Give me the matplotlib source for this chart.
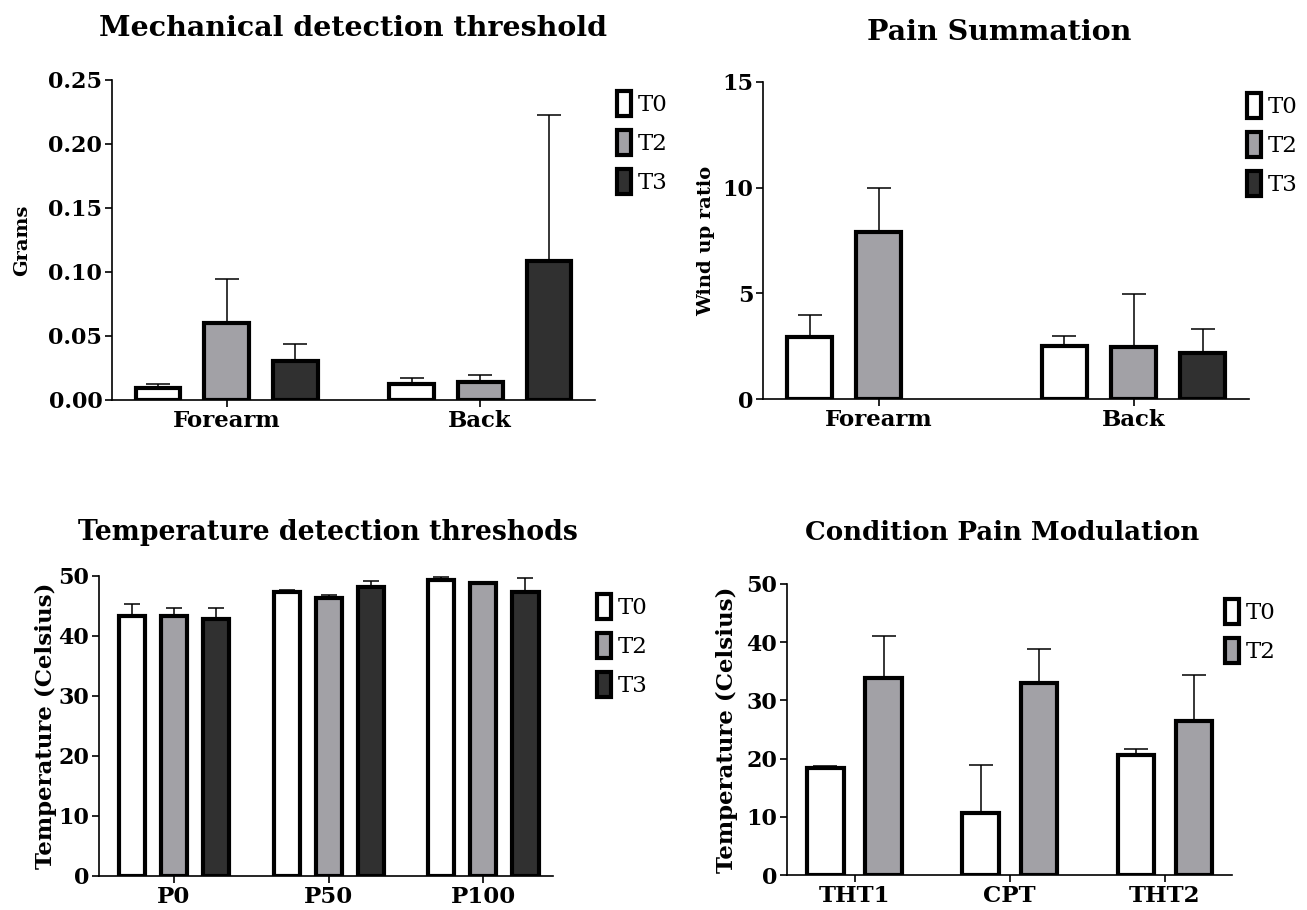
import numpy as np
import matplotlib
matplotlib.use("Agg")
from matplotlib import pyplot as plt
from matplotlib.patches import Patch

plt.rcParams['font.family'] = ['DejaVu Serif']

# mechanical detection threshold (grams)
mdt_groups = ['Forearm', 'Back']
mdt_t0 = [0.0093, 0.0126]
mdt_t2 = [0.0598, 0.0137]
mdt_t3 = [0.0302, 0.1085]
mdt_t0_err = [0.0124, 0.0170]
mdt_t2_err = [0.0948, 0.0193]
mdt_t3_err = [0.0438, 0.2224]

# pain summation (wind up ratio), no T3 bar for forearm
ps_groups = ['Forearm', 'Back']
ps_t0 = [2.93, 2.52]
ps_t2 = [7.90, 2.44]
ps_t3 = [np.nan, 2.19]
ps_t0_err = [3.97, 2.99]
ps_t2_err = [9.98, 4.98]
ps_t3_err = [np.nan, 3.31]

# temperature detection thresholds
tdt_groups = ['P0', 'P50', 'P100']
tdt_t0 = [43.3, 47.3, 49.3]
tdt_t2 = [43.3, 46.4, 48.8]
tdt_t3 = [42.9, 48.1, 47.3]
tdt_t0_err = [45.3, 47.6, 49.9]
tdt_t2_err = [44.7, 46.9, 49.0]
tdt_t3_err = [44.6, 49.2, 49.6]

# conditioned pain modulation
cpm_groups = ['THT1', 'CPT', 'THT2']
cpm_t0 = [18.3, 10.65, 20.56]
cpm_t2 = [33.85, 33.05, 26.5]
cpm_t0_err = [18.8, 18.84, 21.6]
cpm_t2_err = [41.07, 38.9, 34.4]

series_names = ['T0', 'T2', 'T3']
colors = ['white', '#a2a1a6', '#303030']

W, H = 1307, 910
fig = plt.figure(figsize=(W / 100, H / 100), dpi=100)


def make_axes(left, right, top, bottom):
    return fig.add_axes([left / W, 1 - bottom / H, (right - left) / W, (bottom - top) / H])


def draw_panel(ax, groups, values, tops, offsets, width, capsize, xlim, ylim, yticks,
               ylabel, ylabel_x, ylabel_size, fmt):
    x = np.arange(len(groups))
    for i, (vals, errs) in enumerate(zip(values, tops)):
        vals = np.array(vals, dtype=float)
        up = np.array(errs, dtype=float) - vals
        xs = x + offsets[i]
        ax.errorbar(xs, vals, yerr=[np.zeros_like(up), up], fmt='none', ecolor='black',
                    elinewidth=1.1, capsize=capsize, capthick=1.1, zorder=1)
        ax.bar(xs, vals, width=width, color=colors[i], edgecolor='black', linewidth=3, zorder=2)
    ax.set_xlim(*xlim)
    ax.set_ylim(*ylim)
    ax.set_yticks(yticks)
    ax.set_yticklabels([fmt.format(v) for v in yticks])
    ax.set_xticks(x)
    ax.set_xticklabels(groups)
    for s in ['top', 'right']:
        ax.spines[s].set_visible(False)
    for s in ['left', 'bottom']:
        ax.spines[s].set_linewidth(1.2)
    ax.tick_params(axis='both', direction='out', length=5, width=1.2, pad=2)
    ax.tick_params(axis='y', labelsize=16)
    ax.tick_params(axis='x', labelsize=16.5)
    for lab in ax.get_xticklabels() + ax.get_yticklabels():
        lab.set_fontweight('bold')
    ax.set_ylabel(ylabel, fontsize=ylabel_size, fontweight='bold')
    bb = ax.get_position()
    ax.yaxis.set_label_coords(ylabel_x / W, bb.y0 + bb.height / 2, transform=fig.transFigure)


def add_legend(ax, n, x, y):
    handles = [Patch(facecolor=colors[i], edgecolor='black', linewidth=3, label=series_names[i])
               for i in range(n)]
    ax.legend(handles=handles, loc='upper left', bbox_to_anchor=(x / W, 1 - y / H),
              bbox_transform=fig.transFigure, frameon=False, fontsize=16.5,
              handlelength=0.6, handleheight=1.3, handletextpad=0.3, labelspacing=0.6,
              borderaxespad=0)


ax1 = make_axes(112, 595, 80, 400)
draw_panel(ax1, mdt_groups, [mdt_t0, mdt_t2, mdt_t3], [mdt_t0_err, mdt_t2_err, mdt_t3_err],
           [-0.271, 0, 0.271], 0.176, 8.3, (-0.453, 1.453), (0, 0.25),
           [0, 0.05, 0.10, 0.15, 0.20, 0.25], 'Grams', 31, 14, '{:.2f}')
add_legend(ax1, 3, 608, 82)
fig.text(353 / W, 1 - 28 / H, 'Mechanical detection threshold', ha='center', va='center',
         fontsize=20.5, fontweight='bold')

ax2 = make_axes(763, 1249, 82, 399)
draw_panel(ax2, ps_groups, [ps_t0, ps_t2, ps_t3], [ps_t0_err, ps_t2_err, ps_t3_err],
           [-0.271, 0, 0.271], 0.176, 8.3, (-0.454, 1.453), (0, 15),
           [0, 5, 10, 15], 'Wind up ratio', 715, 14, '{:d}')
add_legend(ax2, 3, 1238, 84)
fig.text(999 / W, 1 - 32 / H, 'Pain Summation', ha='center', va='center',
         fontsize=20.5, fontweight='bold')

ax3 = make_axes(99, 553, 576, 876)
draw_panel(ax3, tdt_groups, [tdt_t0, tdt_t2, tdt_t3], [tdt_t0_err, tdt_t2_err, tdt_t3_err],
           [-0.272, 0, 0.272], 0.169, 5.8, (-0.485, 2.45), (0, 50),
           [0, 10, 20, 30, 40, 50], 'Temperature (Celsius)', 57, 16.5, '{:d}')
add_legend(ax3, 3, 588, 585)
fig.text(328 / W, 1 - 532 / H, 'Temperature detection threshods', ha='center', va='center',
         fontsize=19.2, fontweight='bold')

ax4 = make_axes(787, 1232, 584, 875)
draw_panel(ax4, cpm_groups, [cpm_t0, cpm_t2], [cpm_t0_err, cpm_t2_err],
           [-0.1875, 0.1875], 0.236, 8.3, (-0.435, 2.432), (0, 50),
           [0, 10, 20, 30, 40, 50], 'Temperature (Celsius)', 738, 16.5, '{:d}')
add_legend(ax4, 2, 1216, 590)
fig.text(1002 / W, 1 - 533 / H, 'Condition Pain Modulation', ha='center', va='center',
         fontsize=18.7, fontweight='bold')

fig.savefig('out.png', dpi=100)
